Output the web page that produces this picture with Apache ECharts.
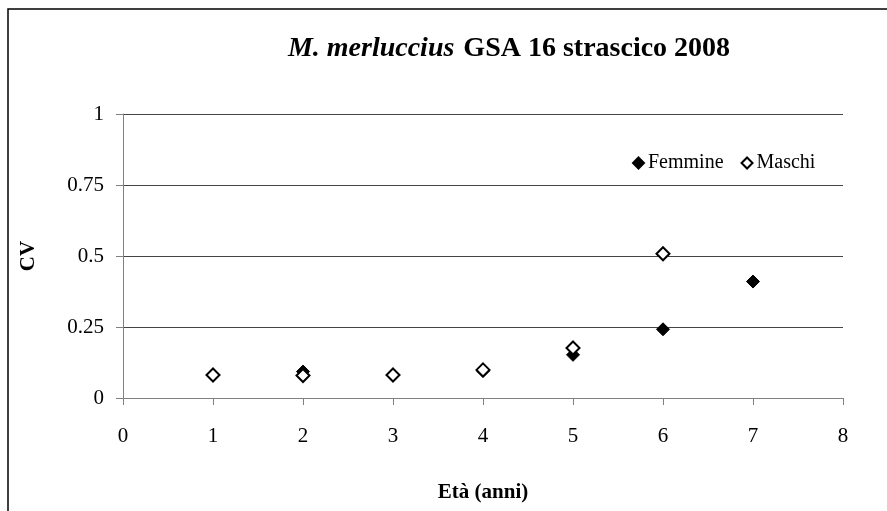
<!DOCTYPE html>
<html><head><meta charset="utf-8">
<script src="https://cdn.jsdelivr.net/npm/echarts@6/dist/echarts.min.js"></script>
<style>html,body{margin:0;padding:0;background:#fff}#c{width:887px;height:511px}</style>
</head><body><div id="c"></div>
<script>
const ages = [1, 2, 3, 4, 5, 6, 7];
const femmine = [0.080, 0.093, 0.080, 0.095, 0.152, 0.242, 0.410];
const maschi = [0.081, 0.079, 0.081, 0.099, 0.176, 0.508];
const xTicks = [0, 1, 2, 3, 4, 5, 6, 7, 8];
const yTicks = [0, 0.25, 0.5, 0.75, 1];

const font = 'Liberation Serif';
const chart = echarts.init(document.getElementById('c'));
chart.setOption({
  animation: false,
  backgroundColor: '#fff',
  textStyle: { fontFamily: font },
  title: {
    text: '{i|M. merluccius}  {b|GSA 16 strascico 2008}',
    left: 504, top: 30, textAlign: 'center',
    textStyle: {
      rich: {
        i: { fontFamily: font, fontStyle: 'italic', fontWeight: 'bold', fontSize: 28, color: '#000' },
        b: { fontFamily: font, fontWeight: 'bold', fontSize: 28, color: '#000' }
      }
    }
  },
  graphic: [{
    type: 'rect', shape: { x: 8, y: 9, width: 1000, height: 700 },
    style: { fill: 'none', stroke: '#000', lineWidth: 1.5 }, silent: true
  }],
  legend: {
    left: 627, top: 148,
    itemWidth: 11, itemHeight: 11, itemGap: 17,
    textStyle: { fontFamily: font, fontSize: 20, color: '#000', padding: [0, 0, 0, -1] },
    data: [
      { name: 'Femmine', icon: 'diamond' },
      { name: 'Maschi', icon: 'diamond' }
    ]
  },
  grid: { left: 123, right: 44, top: 114, bottom: 113, containLabel: false, outerBoundsMode: 'none' },
  xAxis: {
    type: 'value', min: xTicks[0], max: xTicks[xTicks.length - 1], interval: 1,
    name: 'Età (anni)', nameLocation: 'middle', nameGap: 84,
    nameTextStyle: { fontFamily: font, fontWeight: 'bold', fontSize: 21, color: '#000' },
    axisLine: { lineStyle: { color: '#808080', width: 1 } },
    axisTick: { show: true, length: 7, lineStyle: { color: '#808080' } },
    axisLabel: { fontFamily: font, fontSize: 21, color: '#000', margin: 28 },
    splitLine: { show: false }
  },
  yAxis: {
    type: 'value', min: yTicks[0], max: yTicks[yTicks.length - 1], interval: 0.25,
    name: 'CV', nameLocation: 'middle', nameGap: 84, nameRotate: 90,
    nameTextStyle: { fontFamily: font, fontWeight: 'bold', fontSize: 21, color: '#000' },
    axisLine: { show: true, lineStyle: { color: '#808080', width: 1 } },
    axisTick: { show: true, length: 7, lineStyle: { color: '#808080' } },
    axisLabel: { fontFamily: font, fontSize: 21, color: '#000', margin: 19 },
    splitLine: { show: true, lineStyle: { color: '#444', width: 1 } }
  },
  series: [
    {
      name: 'Femmine', type: 'scatter', symbol: 'diamond', symbolSize: 13,
      itemStyle: { color: '#000', borderColor: '#000', borderWidth: 1, opacity: 1 },
      data: ages.map((a, i) => [a, femmine[i]])
    },
    {
      name: 'Maschi', type: 'scatter', symbol: 'diamond', symbolSize: 13,
      itemStyle: { color: '#fff', borderColor: '#000', borderWidth: 2, opacity: 1 },
      data: maschi.map((v, i) => [ages[i], v])
    }
  ]
});
</script></body></html>
